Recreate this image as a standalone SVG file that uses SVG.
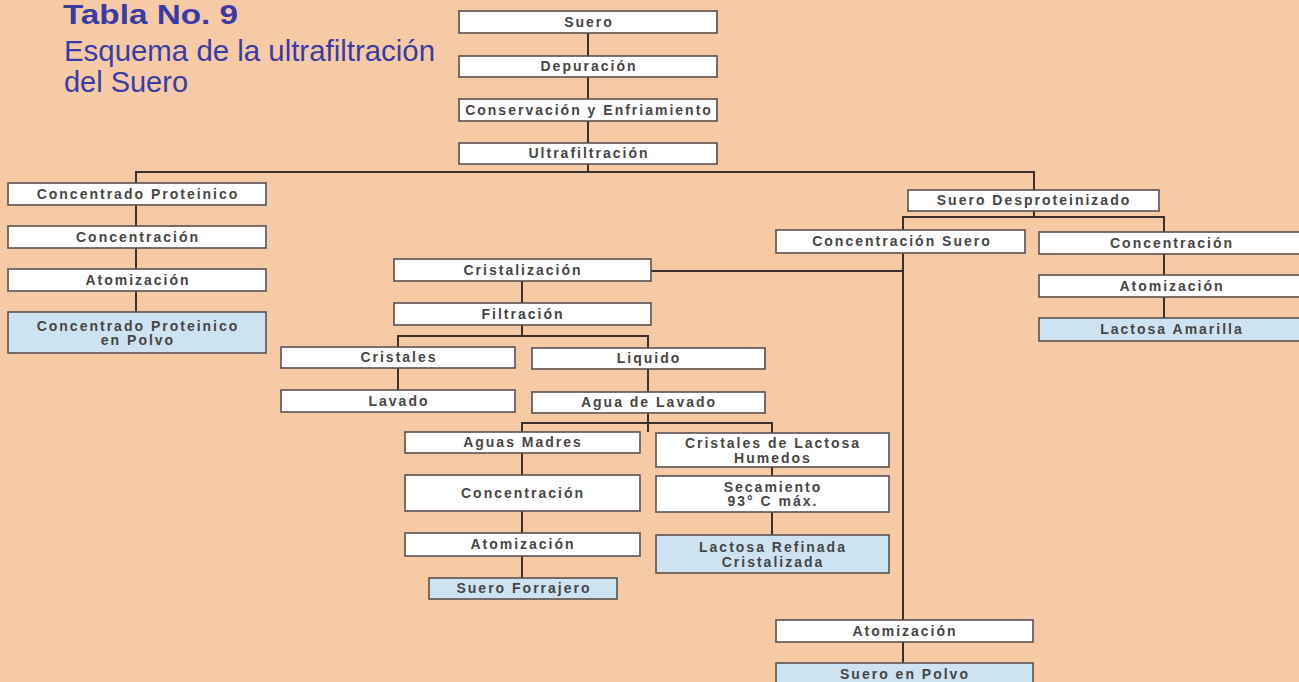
<svg xmlns="http://www.w3.org/2000/svg" width="1299" height="682" viewBox="0 0 1299 682">
<style>
.bg{fill:#f7caa6}
.title{font-family:"Liberation Sans",Arial,sans-serif;fill:#3a3ca6}
.box{fill:#ffffff;stroke:#5a5050;stroke-width:1.6}
.blue{fill:#cde3f1;stroke:#5a5050;stroke-width:1.6}
.t{font-family:"Liberation Sans",Arial,sans-serif;font-weight:bold;font-size:14px;fill:#474545;text-anchor:middle;letter-spacing:2px}
.ln{stroke:#3a3030;stroke-width:2;fill:none}
</style>
<rect class="bg" x="0" y="0" width="1299" height="682"/>
<g id="title">
<text class="title" x="63" y="24" font-size="28" font-weight="bold" textLength="175" lengthAdjust="spacingAndGlyphs">Tabla No. 9</text>
<text class="title" x="64" y="61" font-size="29" textLength="371" lengthAdjust="spacingAndGlyphs">Esquema de la ultrafiltración</text>
<text class="title" x="64" y="92" font-size="29" textLength="124" lengthAdjust="spacingAndGlyphs">del Suero</text>
</g>
<g id="connectors">
<path class="ln" d="M588 33 V172"/>
<path class="ln" d="M136 183 V172 H1034 V190" stroke-width="2.4"/>
<path class="ln" d="M136 205 V312"/>
<path class="ln" d="M1034 211 V217"/>
<path class="ln" d="M903 230 V217 H1164 V318"/>
<path class="ln" d="M903 253 V663"/>
<path class="ln" d="M651 271 H903"/>
<path class="ln" d="M522 281 V336"/>
<path class="ln" d="M398 390 V336 H648 V432"/>
<path class="ln" d="M522 578 V423 H772 V535"/>
</g>
<g id="n_suero"><rect class="box" x="459" y="11" width="258" height="22"/><text class="t" x="589" y="27">Suero</text></g>
<g id="n_depuracion"><rect class="box" x="459" y="56" width="258" height="21"/><text class="t" x="589" y="71">Depuración</text></g>
<g id="n_conservacion"><rect class="box" x="459" y="99" width="258" height="22"/><text class="t" x="589" y="115">Conservación y Enfriamiento</text></g>
<g id="n_ultrafiltracion"><rect class="box" x="459" y="143" width="258" height="21"/><text class="t" x="589" y="158">Ultrafiltración</text></g>
<g id="n_concprot"><rect class="box" x="8" y="183" width="258" height="22"/><text class="t" x="138" y="199">Concentrado Proteinico</text></g>
<g id="n_conc1"><rect class="box" x="8" y="226" width="258" height="22"/><text class="t" x="138" y="242">Concentración</text></g>
<g id="n_atom1"><rect class="box" x="8" y="269" width="258" height="22"/><text class="t" x="138" y="285">Atomización</text></g>
<g id="n_concprotpolvo"><rect class="blue" x="8" y="312" width="258" height="41"/><text class="t" x="138" y="331">Concentrado Proteinico</text><text class="t" x="138" y="345">en Polvo</text></g>
<g id="n_suerodesp"><rect class="box" x="908" y="190" width="251" height="21"/><text class="t" x="1034" y="205">Suero Desproteinizado</text></g>
<g id="n_concsuero"><rect class="box" x="776" y="230" width="249" height="23"/><text class="t" x="902" y="246">Concentración Suero</text></g>
<g id="n_conc2"><rect class="box" x="1039" y="232" width="262" height="22"/><text class="t" x="1172" y="248">Concentración</text></g>
<g id="n_atom2"><rect class="box" x="1039" y="275" width="262" height="22"/><text class="t" x="1172" y="291">Atomización</text></g>
<g id="n_lactamarilla"><rect class="blue" x="1039" y="318" width="262" height="23"/><text class="t" x="1172" y="334">Lactosa Amarilla</text></g>
<g id="n_cristalizacion"><rect class="box" x="394" y="259" width="257" height="22"/><text class="t" x="523" y="275">Cristalización</text></g>
<g id="n_filtracion"><rect class="box" x="394" y="303" width="257" height="22"/><text class="t" x="523" y="319">Filtración</text></g>
<g id="n_cristales"><rect class="box" x="281" y="347" width="234" height="21"/><text class="t" x="399" y="362">Cristales</text></g>
<g id="n_liquido"><rect class="box" x="532" y="348" width="233" height="21"/><text class="t" x="649" y="363">Liquido</text></g>
<g id="n_lavado"><rect class="box" x="281" y="390" width="234" height="22"/><text class="t" x="399" y="406">Lavado</text></g>
<g id="n_agualavado"><rect class="box" x="532" y="392" width="233" height="21"/><text class="t" x="649" y="407">Agua de Lavado</text></g>
<g id="n_aguasmadres"><rect class="box" x="405" y="432" width="235" height="21"/><text class="t" x="523" y="447">Aguas Madres</text></g>
<g id="n_cristlact"><rect class="box" x="656" y="433" width="233" height="34"/><text class="t" x="773" y="448">Cristales de Lactosa</text><text class="t" x="773" y="463">Humedos</text></g>
<g id="n_conc3"><rect class="box" x="405" y="475" width="235" height="36"/><text class="t" x="523" y="498">Concentración</text></g>
<g id="n_secamiento"><rect class="box" x="656" y="476" width="233" height="36"/><text class="t" x="773" y="492">Secamiento</text><text class="t" x="773" y="506">93° C máx.</text></g>
<g id="n_atom3"><rect class="box" x="405" y="533" width="235" height="23"/><text class="t" x="523" y="549">Atomización</text></g>
<g id="n_lactrefinada"><rect class="blue" x="656" y="535" width="233" height="38"/><text class="t" x="773" y="552">Lactosa Refinada</text><text class="t" x="773" y="567">Cristalizada</text></g>
<g id="n_sueroforrajero"><rect class="blue" x="429" y="578" width="188" height="21"/><text class="t" x="524" y="593">Suero Forrajero</text></g>
<g id="n_atom4"><rect class="box" x="776" y="620" width="257" height="22"/><text class="t" x="905" y="636">Atomización</text></g>
<g id="n_sueropolvo"><rect class="blue" x="776" y="663" width="257" height="22"/><text class="t" x="905" y="679">Suero en Polvo</text></g>
</svg>
